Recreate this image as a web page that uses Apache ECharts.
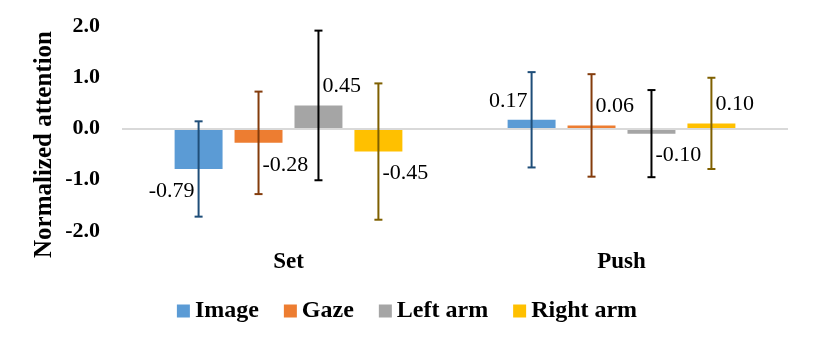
<!DOCTYPE html>
<html>
<head>
<meta charset="utf-8">
<script src="https://cdn.jsdelivr.net/npm/echarts@6/dist/echarts.min.js"></script>
<style>
  html, body { margin: 0; padding: 0; background: #fff; }
  #chart { width: 814px; height: 343px; }
</style>
</head>
<body>
<div id="chart"></div>
<script>
// data
const categories = ['Set', 'Push'];
const seriesNames = ['Image', 'Gaze', 'Left arm', 'Right arm'];
const imageMeans = [-0.79, 0.17];
const gazeMeans = [-0.28, 0.06];
const leftArmMeans = [0.45, -0.10];
const rightArmMeans = [-0.45, 0.10];
const imageErr = [0.93, 0.93];
const gazeErr = [1.00, 1.00];
const leftArmErr = [1.46, 0.85];
const rightArmErr = [1.33, 0.89];
const yMin = -2, yMax = 2, yStep = 1;

const means = [imageMeans, gazeMeans, leftArmMeans, rightArmMeans];
const errs = [imageErr, gazeErr, leftArmErr, rightArmErr];

// styling
const barColors = ['#5B9BD5', '#ED7D31', '#A5A5A5', '#FFC000'];
const errColors = ['#1F4E79', '#843C0C', '#000000', '#7F6000'];
const labelSide = ['left', 'right', 'right', 'right'];
const FONT = '"Liberation Serif", "Times New Roman", serif';
const BAR_PCT = 0.144;
const BAR_GAP = 0.25;

const chart = echarts.init(document.getElementById('chart'), null, { renderer: 'canvas' });

const barSeries = means.map((vals, i) => ({
  type: 'bar',
  name: seriesNames[i],
  data: vals,
  barWidth: (BAR_PCT * 100) + '%',
  barGap: (BAR_GAP * 100) + '%',
  itemStyle: { color: barColors[i] },
  markLine: i === 0 ? {
    silent: true,
    symbol: 'none',
    label: { show: false },
    lineStyle: { color: '#D9D9D9', width: 2, type: 'solid' },
    data: [{ yAxis: 0 }]
  } : undefined
}));

const errSeries = means.map((vals, i) => ({
  type: 'custom',
  z: 5,
  data: vals.map((m, j) => [j, m, errs[i][j]]),
  renderItem: (params, api) => {
    const j = api.value(0), m = api.value(1), e = api.value(2);
    const bandW = api.size([1, 0])[0];
    const barW = bandW * BAR_PCT;
    const x = api.coord([j, 0])[0] + (i - 1.5) * barW * (1 + BAR_GAP);
    const yEnd = api.coord([j, m])[1];
    const yTop = api.coord([j, m + e])[1];
    const yBot = api.coord([j, m - e])[1];
    const stroke = { stroke: errColors[i], lineWidth: 2 };
    const cap = 4;
    const left = labelSide[i] === 'left';
    return {
      type: 'group',
      children: [
        { type: 'line', shape: { x1: x, y1: yTop, x2: x, y2: yBot }, style: stroke },
        { type: 'line', shape: { x1: x - cap, y1: yTop, x2: x + cap, y2: yTop }, style: stroke },
        { type: 'line', shape: { x1: x - cap, y1: yBot, x2: x + cap, y2: yBot }, style: stroke },
        {
          type: 'text',
          x: left ? x - 4 : x + 4,
          y: yEnd + (m >= 0 ? -19 : 22),
          style: {
            text: m.toFixed(2),
            fill: '#000',
            font: '22px ' + FONT,
            align: left ? 'right' : 'left',
            verticalAlign: 'middle'
          }
        }
      ]
    };
  }
}));

const option = {
  animation: false,
  grid: { left: 122, right: 26, top: 26, bottom: 112 },
  legend: {
    data: seriesNames,
    top: 294,
    left: 'center',
    itemWidth: 13,
    itemHeight: 13,
    itemGap: 25,
    icon: 'rect',
    textStyle: { fontFamily: FONT, fontSize: 24, fontWeight: 'bold', color: '#000' }
  },
  xAxis: {
    type: 'category',
    data: categories,
    axisLine: { show: false },
    axisTick: { show: false },
    axisLabel: { margin: 20, fontFamily: FONT, fontSize: 23, fontWeight: 'bold', color: '#000' }
  },
  yAxis: {
    type: 'value',
    min: yMin,
    max: yMax,
    interval: yStep,
    name: 'Normalized attention',
    nameLocation: 'middle',
    nameGap: 65,
    nameMoveOverlap: false,
    nameTextStyle: { fontFamily: FONT, fontSize: 25, fontWeight: 'bold', color: '#000', padding: [0, 32, 0, 0] },
    axisLine: { show: false },
    axisTick: { show: false },
    splitLine: { show: false },
    axisLabel: {
      margin: 22,
      fontFamily: FONT, fontSize: 22, fontWeight: 'bold', color: '#000',
      formatter: v => v.toFixed(1)
    }
  },
  series: [...barSeries, ...errSeries]
};

chart.setOption(option);
window.addEventListener('resize', () => chart.resize());
</script>
</body>
</html>
